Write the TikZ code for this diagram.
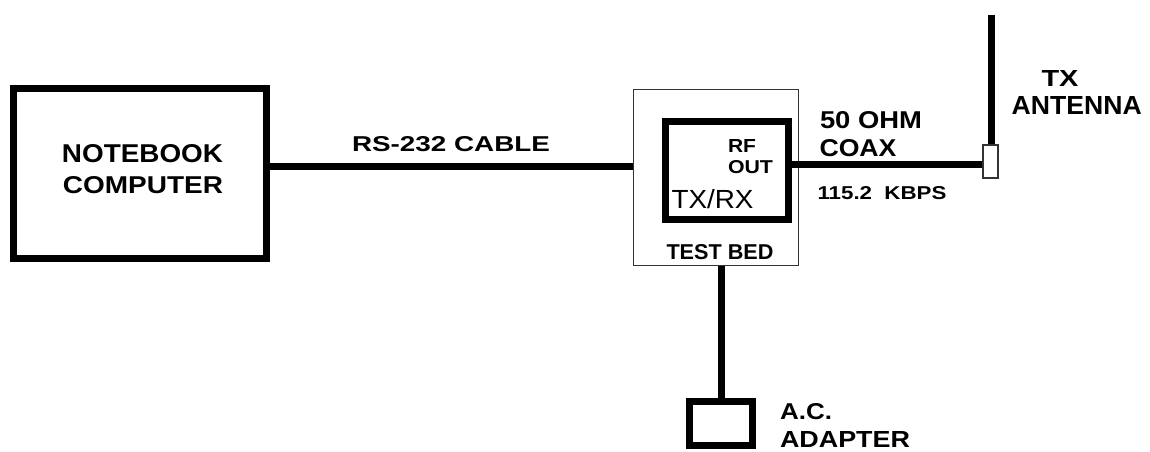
\documentclass[tikz,border=0pt]{standalone}
\usepackage{fontspec}
\setmainfont{Liberation Sans}
\usepackage{graphicx}
\newcommand\fitlbl[3]{\resizebox{#1pt}{#2pt}{#3}}
\tikzset{
  heavybox/.style={draw=black, line width=7pt, inner sep=0pt, fill=white},
  lightbox/.style={draw=black!80, line width=1.3pt, inner sep=0pt, fill=white},
  wire/.style={line width=7pt, draw=black},
  lbl/.style={inner sep=0pt, font=\bfseries, text=black},
  lblr/.style={inner sep=0pt, font=\mdseries, text=black}
}
\begin{document}
\begin{tikzpicture}[x=1pt,y=-1pt]
\useasboundingbox (0,0) rectangle (1150,451);
\fill[white] (0,0) rectangle (1150,451);

% boxes
\node[heavybox, minimum width=253pt, minimum height=170pt] (nb) at (140,173.5) {};
\node[lightbox, minimum width=165pt, minimum height=176pt] (bed) at (716,177.5) {};
\node[heavybox, minimum width=123pt, minimum height=98pt] (txrx) at (727,170.5) {};
\node[lightbox, minimum width=15pt, minimum height=33pt] (ant) at (990.5,161.5) {};
\node[heavybox, minimum width=63pt, minimum height=44pt] (adp) at (721,423.5) {};

% connectors
\coordinate (rs) at (450,166.5);
\draw[wire] (rs -| nb.east) -- (rs -| bed.west);
\coordinate (coax) at (880,164.5);
\draw[wire] (coax -| txrx.east) -- (coax -| ant.west);
\coordinate (mtop) at (991.5,15);
\draw[wire] (mtop) -- (mtop |- ant.north);
\draw[wire] (adp.north) -- (adp.north |- bed.south);

% labels
\node[lbl] (l-nb1) at (142.5,154) {\fitlbl{161}{18}{NOTEBOOK}};
\node[lbl] (l-nb2) at (143,185.5) {\fitlbl{160}{17}{COMPUTER}};
\node[lbl] (l-rs) at (451,144.5) {\fitlbl{198}{15}{RS-232 CABLE}};
\node[lbl] (l-rf) at (742,146) {\fitlbl{28}{13}{RF}};
\node[lbl] (l-out) at (750.5,167) {\fitlbl{45}{13}{OUT}};
\node[lblr] (l-txrx) at (712.5,199.5) {\fitlbl{82}{19}{TX/RX}};
\node[lbl] (l-bed) at (720,252.5) {\fitlbl{107}{15}{TEST BED}};
\node[lbl] (l-ohm) at (871,120.3) {\fitlbl{102}{17}{50 OHM}};
\node[lbl] (l-coax) at (858,148.3) {\fitlbl{77}{17}{COAX}};
\node[lbl] (l-kbps) at (882,193.3) {\fitlbl{129}{13}{115.2\ \ KBPS}};
\node[lbl] (l-tx) at (1060,78) {\fitlbl{37}{16}{TX}};
\node[lbl] (l-ant) at (1076.7,105.8) {\fitlbl{130}{18}{ANTENNA}};
\node[lbl] (l-ac) at (806,412) {\fitlbl{52}{16}{A.C.}};
\node[lbl] (l-adp) at (845,439.5) {\fitlbl{130}{16}{ADAPTER}};
\end{tikzpicture}
\end{document}
